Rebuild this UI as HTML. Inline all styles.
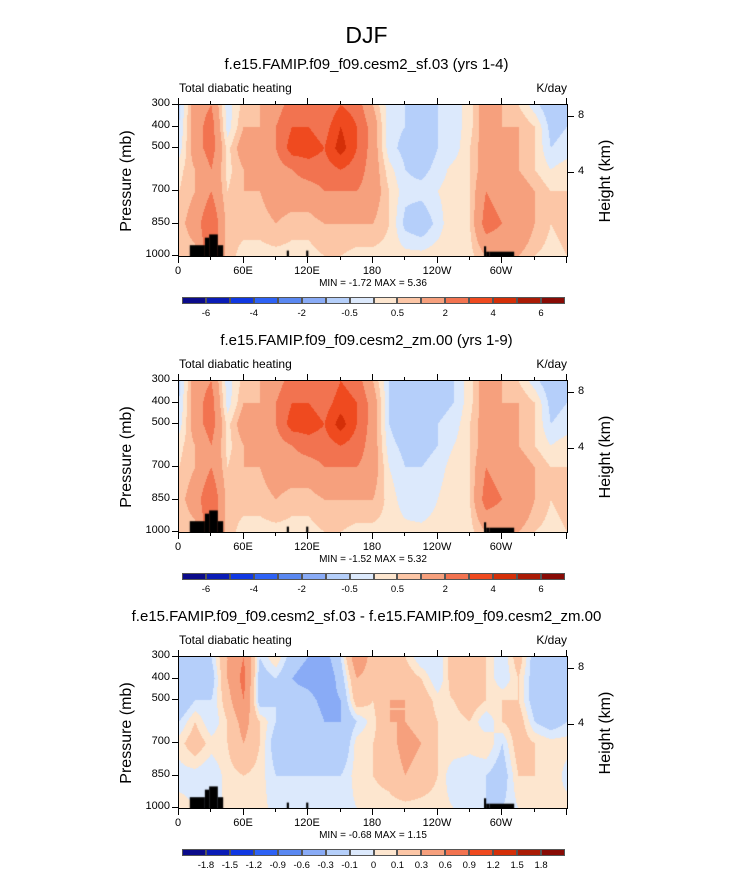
<!DOCTYPE html>
<html><head><meta charset="utf-8"><style>
body{margin:0;background:#fff;}
#root{position:relative;width:733px;height:872px;font-family:"Liberation Sans",sans-serif;color:#000;}
.t{position:absolute;white-space:nowrap;}
canvas{position:absolute;}
</style></head><body>
<div id="root">
<div class="t" style="left:0;width:733px;text-align:center;top:22px;font-size:23px;">DJF</div>
</div>
<script>
// ---- data ----
const lons=[0,15,30,45,60,75,90,105,120,135,150,165,180,195,210,225,240,255,270,285,300,315,330,345];
const pressures=[300,400,500,600,700,850,1000];
const levels1=[-6,-5,-4,-3,-2,-1,-0.5,0,0.5,1,2,3,4,5,6];
const levels3=[-1.8,-1.5,-1.2,-0.9,-0.6,-0.3,-0.1,0,0.1,0.3,0.6,0.9,1.2,1.5,1.8];
const xTickLabels=["0","60E","120E","180","120W","60W"];
const yTickLabels=[300,400,500,700,850,1000];
const hTickLabels=[8,4];
const hTickPressures=[356,616];
const field1=[
[-0.7,-0.5,-0.3,0.3,0.5,0.7,0.5],[1.5,1.5,1.5,1,1,1.5,0.7],[2,2.5,2.5,2,2,3,3],[-0.3,-0.3,0.3,0.3,0.5,0.7,0.7],
[0.7,1,1.5,1,1,0.7,0.3],[1,1,1.5,1.2,1,0.7,0.3],[1.5,2,2,1.5,1.5,1,0.3],[2.5,3,3.5,2,1.5,0.7,0.3],
[2.5,3,3.5,2.5,1.5,0.7,0.3],[2,2.5,3,2.5,2,1,0.5],[3,4,4.5,3,2,1,0.5],[2.5,3,3,2.5,2,1,0.3],
[1,1.5,1.5,1.5,1.5,1,0.3],[-0.3,-0.3,-0.3,0.2,0.5,0.5,0.3],[-0.5,-0.5,-0.7,-0.5,-0.3,-0.7,0.2],[-0.5,-0.7,-1,-0.7,-0.3,-1,0.2],
[-0.5,-0.5,-0.5,-0.3,0,-0.3,0.3],[-0.3,-0.3,-0.3,0.2,0.3,0.5,0.3],[0.3,0.3,0.5,0.5,0.5,0.5,0.3],[1.5,1.5,1.5,1.5,2,2.5,1],
[1,1,1,1,1.5,2,1],[0.5,1,1,1,1.5,2,1],[-0.3,0.5,0.5,0.5,1,1,0.5],[-1,-0.7,-0.5,0,0.5,0.5,0.3]];
const field2=[
[-0.7,-0.5,-0.3,0.3,0.5,0.7,0.5],[1.5,1.5,1.5,1,1,1.5,0.7],[2,2.5,2.5,2,2,3,3],[-0.3,-0.3,0.3,0.3,0.5,0.7,0.7],
[0.7,1,1.5,1,1,0.7,0.3],[1,1,1.5,1.2,1,0.7,0.3],[1.5,2,2,1.5,1.5,1,0.3],[2.5,3,3.5,2,1.5,0.7,0.3],
[2.5,3,3.5,2.5,1.5,0.7,0.3],[2,2.5,3,2.5,2,1,0.5],[3,3.5,4.5,3,2,1,0.5],[2.5,3,3,2.5,2,1,0.3],
[1,1.5,1.5,1.5,1.5,1,0.3],[-0.5,-0.5,-0.5,-0.3,0,0.3,0.3],[-1,-1,-1,-0.7,-0.5,-0.3,0.2],[-1,-1,-1,-0.7,-0.5,-0.5,0.2],
[-0.7,-0.7,-0.5,-0.5,-0.3,0,0.3],[-0.5,-0.5,-0.3,0,0.3,0.5,0.3],[0.3,0.3,0.5,0.5,0.5,0.5,0.3],[1.5,1.5,1.5,1.5,2,2.5,1],
[1,1,1,1,1.5,2,1],[0.5,1,1,1,1.5,2,1],[-0.3,0.5,0.5,0.5,1,1,0.5],[-1,-0.7,-0.5,0,0.5,0.5,0.3]];
const field3=[
[-0.2,-0.3,-0.3,-0.1,0.05,-0.05,0.05],[-0.2,-0.1,-0.1,0.1,0.2,-0.05,0],[-0.1,-0.2,-0.1,-0.1,0.05,-0.1,0],[0.3,0.3,0.2,0.1,0.1,0.05,0],
[0.6,0.7,0.6,0.4,0.3,0.1,0.05],[-0.1,-0.2,-0.2,0.1,0.1,0.05,0.05],[0.1,-0.1,-0.1,-0.1,-0.2,-0.1,-0.05],[-0.2,-0.3,-0.2,-0.2,-0.1,-0.1,-0.05],
[-0.3,-0.4,-0.2,-0.1,-0.2,-0.1,-0.05],[-0.4,-0.5,-0.4,-0.3,-0.2,-0.1,-0.05],[-0.1,-0.2,-0.3,-0.3,-0.3,-0.1,-0.05],[0.5,0.3,0.2,-0.1,0.05,0.05,0],
[0.2,0.2,0.1,0.05,0.1,0.1,0.05],[0.2,0.3,0.3,0.3,0.2,0.15,0.05],[0.1,0.2,0.3,0.3,0.4,0.3,0.05],[-0.1,0.1,0.2,0.2,0.3,0.2,0.05],
[-0.1,-0.1,0.05,0.1,0.1,0.1,0.05],[0.2,0.2,0.1,0.05,0.1,-0.1,0],[0.2,0.3,0.2,0.1,0.05,-0.1,0],[0.1,0.1,0.1,-0.1,0.1,-0.1,-0.1],
[-0.1,-0.1,0.1,0.1,-0.1,-0.2,-0.1],[0.2,0.1,0.1,0.2,0.2,0.1,0],[-0.2,-0.2,-0.2,-0.1,0.1,0.1,0],[-0.2,-0.2,-0.3,-0.2,0.05,0.1,0]];
const titles=["f.e15.FAMIP.f09_f09.cesm2_sf.03 (yrs 1-4)","f.e15.FAMIP.f09_f09.cesm2_zm.00 (yrs 1-9)","f.e15.FAMIP.f09_f09.cesm2_sf.03 - f.e15.FAMIP.f09_f09.cesm2_zm.00"];
const minmax=["MIN = -1.72  MAX =  5.36","MIN = -1.52  MAX =  5.32","MIN = -0.68  MAX =  1.15"];
// topography: [lonStart, lonEnd, surfacePressure]
const topoLon0=[10,24,28,36,100,118,283,285,288];
const topoLon1=[24,28,36,41,102,120,285,288,311];
const topoP=[950,915,900,950,975,975,955,980,980];
const colors=["#0b0b8a","#0a1cb6","#1038e2","#2e62f5","#5a88f1","#89abf6","#b5cffa","#dce9fc","#fde6cf","#fcc6a6","#f6a07d","#f27350","#ef4a1f","#d42f08","#aa1b05","#880b05"];

// ---- layout ----
const root=document.getElementById('root');
const X0=179,X1=567;
function xScale(lon){return X0+(lon/360)*(X1-X0);}
function mk(tag,name,style,txt){const e=document.createElement(tag);e.className='t';e.style.cssText=style;if(txt!==undefined)e.textContent=txt;


root.appendChild(e);return e;}
function line(name,x,y,w,h){return mk('div',name,`left:${x}px;top:${y}px;width:${w}px;height:${h}px;background:#000;`);}
function interp(field,lon,p){
 lon=((lon%360)+360)%360;let i=Math.floor(lon/15),f=(lon-i*15)/15;let i2=(i+1)%24;
 let j=0;while(j<pressures.length-2&&p>pressures[j+1])j++;
 let g=(p-pressures[j])/(pressures[j+1]-pressures[j]);g=Math.max(0,Math.min(1,g));
 const a=field[i][j]*(1-g)+field[i][j+1]*g,b=field[i2][j]*(1-g)+field[i2][j+1]*g;return a*(1-f)+b*f;}
function colorOf(v,lv){let k=0;while(k<lv.length&&v>=lv[k])k++;return colors[k];}

function panel(idx,field,lv){
 const off=idx*276,Y0=105+off,Y1=256+off;
 const yScale=p=>Y0+(p-300)/700*(Y1-Y0);
 mk('div','panel-title-'+(idx+1),`left:0;width:733px;text-align:center;top:${off+56}px;font-size:15px;`,titles[idx]);
 mk('div','panel-'+(idx+1)+'-variable-label',`left:${X0}px;top:${off+81}px;font-size:12px;`,'Total diabatic heating');
 mk('div','panel-'+(idx+1)+'-units-label',`right:${733-X1}px;top:${off+81}px;font-size:12px;`,'K/day');
 const cv=document.createElement('canvas');cv.width=X1-X0;cv.height=Y1-Y0;cv.style.left=X0+'px';cv.style.top=Y0+'px';
 
 
 root.appendChild(cv);const c=cv.getContext('2d');
 for(let px=0;px<cv.width;px++){const lon=(px+0.5)/(X1-X0)*360;
  for(let py=0;py<cv.height;py++){const p=300+(py+0.5)/(Y1-Y0)*700;
   c.fillStyle=colorOf(interp(field,lon,p),lv);c.fillRect(px,py,1,1);}}
 c.fillStyle='#000';
 for(let k=0;k<topoP.length;k++){const xa=xScale(topoLon0[k])-X0,xb=xScale(topoLon1[k])-X0,ya=yScale(topoP[k])-Y0;c.fillRect(xa,ya,xb-xa,cv.height-ya);}
 mk('div','plot-frame-'+(idx+1),`left:${X0-1}px;top:${Y0-1}px;width:${X1-X0}px;height:${Y1-Y0}px;border:1px solid #000;`);
 for(let l=0;l<=360;l+=30){const x=Math.round(xScale(l))-1;const len=l%60===0?6:3;
  line('x-tick',x,Y1+1,1,len);line('x-tick-top',x,Y0-1-len,1,len);
  if(l%60===0&&l<360) mk('div','x-tick-label',`left:${x-20}px;width:40px;text-align:center;top:${Y1+9}px;font-size:11px;`,xTickLabels[l/60]);}
 for(const p of yTickLabels){const y=Math.round(yScale(p))-1;line('y-tick',X0-7,y,6,1);
  mk('div','y-tick-label',`right:${733-X0+9}px;top:${y-7}px;font-size:11px;`,String(p));}
 hTickLabels.forEach((h,k)=>{const y=Math.round(yScale(hTickPressures[k]))-1;line('height-tick',X1+1,y,6,1);
  mk('div','height-tick-label',`left:${X1+11}px;top:${y-7}px;font-size:11px;`,String(h));});
 mk('div','y-axis-title-pressure',`left:${127-60}px;width:120px;text-align:center;top:${off+172}px;font-size:16px;transform:rotate(-90deg);`,'Pressure (mb)');
 mk('div','y-axis-title-height',`left:${606-60}px;width:120px;text-align:center;top:${off+172}px;font-size:16px;transform:rotate(-90deg);`,'Height (km)');
 mk('div','min-max-label',`left:${X0}px;width:${X1-X0}px;text-align:center;top:${off+278}px;font-size:10px;`,minmax[idx]);
 const cy=297+off,bw=(565-182)/16;
 for(let k=0;k<16;k++){mk('div','colorbar-box',`left:${182+k*bw}px;top:${cy}px;width:${bw}px;height:7px;background:${colors[k]};box-sizing:border-box;border:0.5px solid #555;`);}
 lv.forEach((v,k)=>{if(idx<2&&k%2===1)return;
  mk('div','colorbar-label',`left:${182+(k+1)*bw-20}px;width:40px;text-align:center;top:${cy+11}px;font-size:9.5px;`,String(v));});
}
panel(0,field1,levels1);
panel(1,field2,levels1);
panel(2,field3,levels3);
</script>
</body></html>
